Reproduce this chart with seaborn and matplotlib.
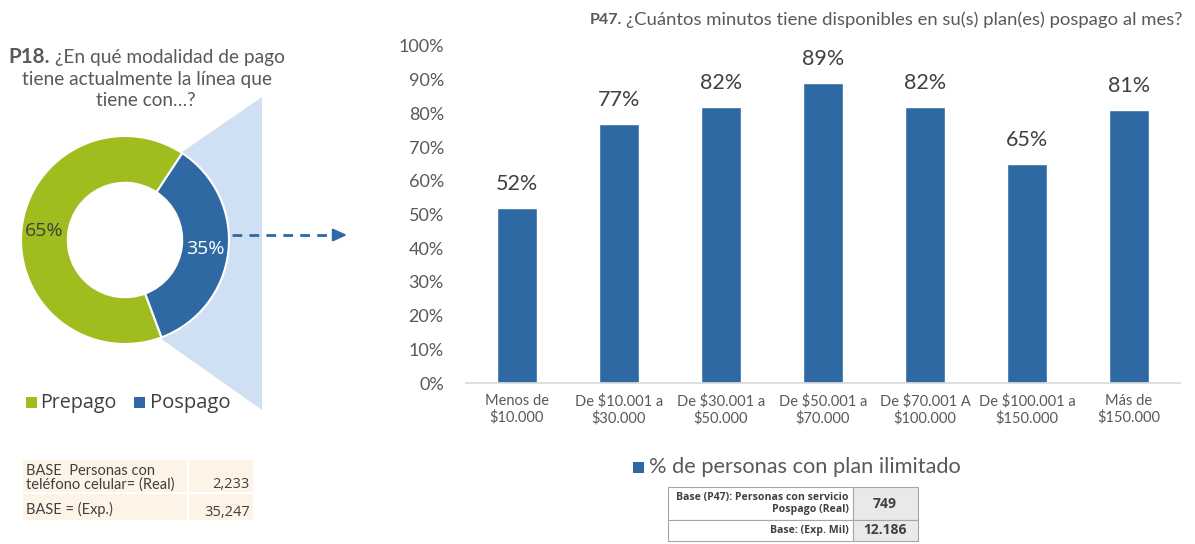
import numpy as np
import pandas as pd
import matplotlib
matplotlib.use("Agg")
import matplotlib.pyplot as plt
import seaborn as sns
from matplotlib.patches import Rectangle, Polygon, Circle

# ---------------- data ----------------
categories = ["Menos de\n$10.000", "De $10.001 a\n$30.000", "De $30.001 a\n$50.000",
              "De $50.001 a\n$70.000", "De $70.001 A\n$100.000", "De $100.001 a\n$150.000",
              "Más de\n$150.000"]
values = [52, 77, 82, 89, 82, 65, 81]
series_name = "% de personas con plan ilimitado"
pie_labels = ["Prepago", "Pospago"]
pie_values = [65, 35]
yticks = list(range(0, 101, 10))
left_title = ["¿En qué modalidad de pago", "tiene actualmente la línea que", "tiene con…?"]
right_title = "¿Cuántos minutos tiene disponibles en su(s) plan(es) pospago al mes?"
left_table_labels = ["BASE  Personas con\nteléfono celular= (Real)", "BASE = (Exp.)"]
left_table_values = ["2,233", "35,247"]
right_table_labels = ["Base (P47): Personas con servicio\nPospago (Real)", "Base: (Exp. Mil)"]
right_table_values = ["749", "12.186"]

# ---------------- style ----------------
W, H = 1195, 544
BLUE = "#2E69A3"
GREEN = "#9FBD1E"
LIGHT = "#CFE0F2"
GRAY = "#595959"
DARK = "#404040"
sns.set_theme(style="white")
plt.rcParams['font.family'] = ['Lato', 'DejaVu Sans']

fig = plt.figure(figsize=(W / 100, H / 100), dpi=100)
renderer = fig.canvas.get_renderer()

# background axes in pixel coordinates
bg = fig.add_axes([0, 0, 1, 1], zorder=-1)
bg.set_xlim(0, W)
bg.set_ylim(H, 0)
bg.axis('off')


def fit(t, target):
    w = t.get_window_extent(renderer).width
    t.set_fontsize(t.get_fontsize() * target / w)
    return t


# ---------------- left: donut ----------------
bg.add_patch(Polygon([(182, 152), (262, 97), (262, 410), (160, 338)],
                     closed=True, facecolor=LIGHT, edgecolor='none'))

pax = fig.add_axes([21 / W, 1 - 344 / H, 208 / W, 208 / H])
pax.add_patch(Circle((0, 0), 0.56, facecolor='white', edgecolor='none', zorder=0))
wedges, texts, autotexts = pax.pie(
    pie_values, colors=[GREEN, BLUE], startangle=56.6, counterclock=True,
    radius=1, autopct=lambda p: f"{p:.0f}%", pctdistance=0.78,
    wedgeprops=dict(width=0.45, edgecolor='white', linewidth=1.5),
    textprops=dict(fontsize=14, family=['Open Sans', 'DejaVu Sans']))
autotexts[0].set_color(DARK)
autotexts[1].set_color('white')
pax.set_xlim(-1, 1)
pax.set_ylim(-1, 1)
pax.axis('off')

# dashed arrow
bg.plot([232, 335], [235, 235], ls=(0, (3.5, 2.6)), color=BLUE, lw=2)
bg.annotate('', xy=(347, 235), xytext=(334, 235),
            arrowprops=dict(arrowstyle='-|>,head_length=0.7,head_width=0.32',
                            color=BLUE, lw=1.5, shrinkA=0, shrinkB=0))

# left title
t = bg.text(55, 57, left_title[0], fontsize=13, color=GRAY, ha='left', va='center')
fit(t, 229)
t = bg.text(50, 57, "P18.", fontsize=14, color=GRAY, ha='right', va='center', weight='bold')
fit(t, 42)
t = bg.text(147, 79, left_title[1], fontsize=13, color=GRAY, ha='center', va='center')
fit(t, 250)
t = bg.text(146, 100, left_title[2], fontsize=13, color=GRAY, ha='center', va='center')
fit(t, 99)

# pie legend
for (x0, tx), lab, col, tw in zip([(26, 40), (134, 150)], pie_labels, [GREEN, BLUE], [77, 81]):
    bg.add_patch(Rectangle((x0, 397), 11, 11, facecolor=col, edgecolor='none'))
    t = bg.text(tx, 403, lab, fontsize=15, color=DARK, ha='left', va='center',
                family=['Open Sans', 'DejaVu Sans'])
    fit(t, tw)

# left table
PEACH = "#FDF3E7"
rows_y = [(460, 492), (494, 520)]
for (y0, y1), lab, val in zip(rows_y, left_table_labels, left_table_values):
    bg.add_patch(Rectangle((23, y0), 164, y1 - y0, facecolor=PEACH, edgecolor='none'))
    bg.add_patch(Rectangle((189, y0), 64, y1 - y0, facecolor=PEACH, edgecolor='none'))
    bg.text(26, (y0 + y1) / 2 + 2, lab, fontsize=10.5, color=DARK, ha='left', va='center',
            linespacing=1.0)
    bg.text(250, y1 - 8, val, fontsize=10.5, color=DARK, ha='right', va='center',
            family=['Open Sans', 'DejaVu Sans'])

# ---------------- right: bar chart ----------------
ax = fig.add_axes([466 / W, 1 - 383 / H, 714 / W, 337 / H])
df = pd.DataFrame({"cat": categories, "val": values})
sns.barplot(data=df, x="cat", y="val", color=BLUE, saturation=1, width=0.4, ax=ax)
ax.set_facecolor('none')
ax.set_ylim(0, 100)
ax.set_yticks(yticks)
ax.set_yticklabels([f"{v}%" for v in yticks], fontsize=13, color=GRAY)
ax.tick_params(axis='y', length=0, pad=16)
ax.tick_params(axis='x', length=0, pad=8, labelsize=10.5, colors=GRAY)
ax.set_xlabel("")
ax.set_ylabel("")
for s in ['top', 'right', 'left']:
    ax.spines[s].set_visible(False)
ax.spines['bottom'].set_color('#D9D9D9')
ax.spines['bottom'].set_linewidth(1.2)
ax.bar_label(ax.containers[0], labels=[f"{v}%" for v in values], padding=10,
             fontsize=15.5, color=DARK)

# right title
t = bg.text(1183, 20, right_title, fontsize=12, color=GRAY, ha='right', va='center')
fit(t, 554)
ext = t.get_window_extent(renderer)
bg.text(ext.x0 - 4, 20, "P47.", fontsize=11.5, color=GRAY, ha='right', va='center',
        weight='bold')

# series legend
bg.add_patch(Rectangle((633, 462), 11, 11, facecolor=BLUE, edgecolor='none'))
t = bg.text(649, 467, series_name, fontsize=15, color=GRAY, ha='left', va='center')
fit(t, 313)

# right table
BORDER = "#A6A6A6"
cells = [(487, 520), (520, 541)]
for (y0, y1), lab, val in zip(cells, right_table_labels, right_table_values):
    bg.add_patch(Rectangle((668, y0), 185, y1 - y0, facecolor='white', edgecolor=BORDER, lw=0.8))
    bg.add_patch(Rectangle((853, y0), 65, y1 - y0, facecolor='#E9E9E9', edgecolor=BORDER, lw=0.8))
    bg.text(849, (y0 + y1) / 2, lab, fontsize=7.6, color=DARK, ha='right', va='center',
            weight='bold', family=['Open Sans', 'DejaVu Sans'], linespacing=1.05,
            multialignment='right')
    bg.text(885, (y0 + y1) / 2, val, fontsize=10, color=DARK, ha='center', va='center',
            weight='bold', family=['Open Sans', 'DejaVu Sans'])

fig.savefig("out.png", dpi=100)
